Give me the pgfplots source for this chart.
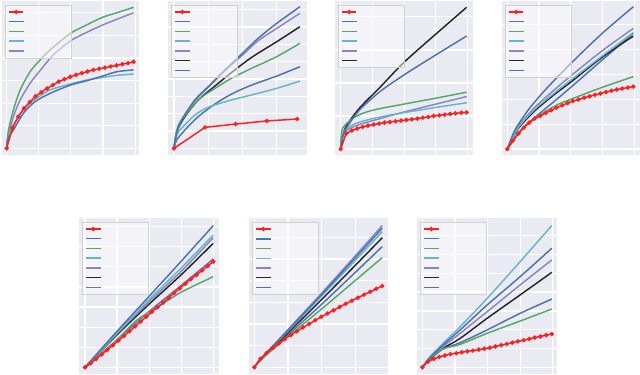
\documentclass[border=0pt]{standalone}
\usepackage{pgfplots}
\pgfplotsset{compat=1.18}
\definecolor{bgc}{HTML}{EAEAF2}
\definecolor{cblue}{HTML}{4C72B0}
\definecolor{cgreen}{HTML}{55A868}
\definecolor{ccyan}{HTML}{64B5CD}
\definecolor{cpurple}{HTML}{8A86C2}
\definecolor{cblack}{HTML}{262626}
\definecolor{cred}{HTML}{FF1F1F}

\pgfplotsset{
  panel/.style={
    scale only axis,
    axis background/.style={fill=bgc},
    axis line style={draw=none},
    xmajorgrids, ymajorgrids,
    major grid style={draw=white, line width=0.9pt},
    major tick length=0pt,
    xticklabel=\empty, yticklabel=\empty,
    reverse legend,
    legend cell align=left,
    legend style={at={(0.02,0.975)}, anchor=north west,
      fill=white, fill opacity=0.5, text opacity=1, draw opacity=1,
      draw=black!18, line width=0.4pt,
      inner xsep=2.5pt, inner ysep=1.5pt, row sep=0pt,
      font=\tiny, nodes={inner sep=0pt, minimum height=7.3pt}},
    legend image code/.code={%
      \draw[mark repeat=2,mark phase=2,##1] plot coordinates {(0pt,0pt) (5.4pt,0pt) (10.8pt,0pt)};},
  },
  ln/.style={line width=1.1pt, smooth, color=#1},
  rd/.style={line width=1.1pt, color=cred, mark=*, mark size=1.05pt},
}
\newcommand{\emptyleg}{\addlegendentry{\hspace*{33pt}}}

\begin{document}
\begin{tikzpicture}[x=0.75pt,y=0.75pt]
\useasboundingbox (0,0) rectangle (640,375);

% ---- panel 1
\begin{axis}[panel, at={(1.5pt,165pt)}, anchor=south west, width=102.75pt, height=115.5pt,
  xmin=-0.145, xmax=4.12, ymin=-0.295, ymax=6.52, xtick={0,...,4}, ytick={0,...,6}]
\addplot[ln=cpurple] coordinates {(0,0) (0.05,0.52) (0.21,1.40) (0.42,2.14) (0.73,2.88) (1.04,3.44) (1.45,4.13) (1.99,4.76) (2.49,5.13) (2.99,5.46) (3.43,5.71) (3.95,6.00)};\emptyleg
\addplot[ln=ccyan] coordinates {(0,0) (0.05,0.55) (0.21,1.03) (0.52,1.70) (0.88,2.17) (1.35,2.58) (1.99,2.85) (2.49,3.02) (2.99,3.14) (3.43,3.23) (3.95,3.29)};\emptyleg
\addplot[ln=cgreen] coordinates {(0,0) (0.05,0.75) (0.21,1.70) (0.42,2.58) (0.73,3.39) (1.04,3.91) (1.35,4.35) (1.99,5.09) (2.49,5.46) (2.99,5.80) (3.43,6.00) (3.95,6.24)};\emptyleg
\addplot[ln=cblue] coordinates {(0,0) (0.05,0.45) (0.21,0.81) (0.52,1.55) (0.88,2.06) (1.35,2.43) (1.99,2.80) (2.49,2.99) (2.99,3.20) (3.43,3.39) (3.95,3.47)};\emptyleg
\addplot[rd] coordinates {(0,0) (0.18,0.90) (0.36,1.40) (0.54,1.77) (0.72,2.05) (0.90,2.30) (1.08,2.48) (1.26,2.65) (1.44,2.80) (1.62,2.95) (1.80,3.06) (1.98,3.16) (2.16,3.25) (2.34,3.33) (2.52,3.40) (2.70,3.47) (2.88,3.52) (3.06,3.57) (3.24,3.62) (3.42,3.67) (3.60,3.72) (3.78,3.77) (3.95,3.83)};\emptyleg
\end{axis}

% ---- panel 2
\begin{axis}[panel, at={(126pt,165pt)}, anchor=south west, width=104.25pt, height=115.5pt,
  xmin=-0.175, xmax=3.885, ymin=-0.385, ymax=8.5, xtick={0,...,3}, ytick={0,...,8}]
\addplot[ln=cblue] coordinates {(0,0) (0.08,0.48) (0.32,1.06) (0.71,1.83) (1.2,2.56) (1.68,3.13) (2.27,3.65) (3.0,4.17) (3.68,4.71)};\emptyleg
\addplot[ln=cblack] coordinates {(0,0) (0.08,0.96) (0.32,1.83) (0.71,2.79) (1.2,3.6) (1.68,4.37) (2.27,5.25) (3.0,6.15) (3.68,7.02)};\emptyleg
\addplot[ln=cpurple] coordinates {(0,0) (0.08,0.87) (0.22,1.60) (0.61,2.75) (1.0,3.52) (1.49,4.48) (2.0,5.38) (2.46,6.21) (3.0,6.92) (3.68,7.79)};\emptyleg
\addplot[ln=ccyan] coordinates {(0,0) (0.08,0.77) (0.22,1.15) (0.61,1.92) (1.0,2.37) (1.68,2.79) (2.27,3.08) (3.0,3.46) (3.68,3.88)};\emptyleg
\addplot[ln=cgreen] coordinates {(0,0) (0.08,1.06) (0.22,1.63) (0.71,2.79) (1.2,3.46) (1.68,4.04) (2.27,4.62) (3.0,5.29) (3.68,6.06)};\emptyleg
\addplot[ln=cblue] coordinates {(0,0) (0.08,0.87) (0.22,1.63) (0.61,2.79) (1.0,3.56) (1.49,4.52) (2.0,5.48) (2.46,6.35) (3.0,7.21) (3.68,8.17)};\emptyleg
\addplot[rd] coordinates {(0,0) (0.91,1.21) (1.80,1.40) (2.71,1.58) (3.60,1.69)};\emptyleg
\end{axis}

% ---- panel 3
\begin{axis}[panel, at={(251.25pt,165pt)}, anchor=south west, width=103.5pt, height=115.5pt,
  xmin=-0.18, xmax=4.17, ymin=-0.18, ymax=4.48, xtick={0,...,4}, ytick={0,...,4}]
\addplot[ln=cblack] coordinates {(0,0) (0.06,0.37) (0.14,0.63) (0.29,0.86) (0.61,1.26) (1.24,1.87) (1.99,2.62) (3.0,3.48) (3.97,4.29)};\emptyleg
\addplot[ln=cpurple] coordinates {(0,0) (0.06,0.42) (0.24,0.60) (0.61,0.75) (1.24,0.92) (1.99,1.12) (3.0,1.36) (3.97,1.59)};\emptyleg
\addplot[ln=ccyan] coordinates {(0,0) (0.06,0.45) (0.24,0.66) (0.61,0.82) (1.24,0.97) (1.99,1.10) (3.0,1.26) (3.97,1.40)};\emptyleg
\addplot[ln=cgreen] coordinates {(0,0) (0.03,0.53) (0.14,0.73) (0.5,1.0) (1.03,1.18) (1.99,1.36) (3.0,1.54) (3.97,1.72)};\emptyleg
\addplot[ln=cblue] coordinates {(0,0) (0.06,0.37) (0.14,0.58) (0.29,0.80) (0.61,1.20) (1.24,1.74) (1.99,2.24) (3.0,2.85) (3.97,3.42)};\emptyleg
\addplot[rd] coordinates {(0,0) (0.17,0.47) (0.35,0.56) (0.52,0.62) (0.69,0.67) (0.86,0.71) (1.04,0.74) (1.21,0.77) (1.38,0.80) (1.55,0.82) (1.73,0.84) (1.90,0.86) (2.07,0.88) (2.24,0.90) (2.42,0.92) (2.59,0.95) (2.76,0.97) (2.93,1.00) (3.11,1.02) (3.28,1.04) (3.45,1.06) (3.62,1.08) (3.80,1.10) (3.97,1.11)};\emptyleg
\end{axis}

% ---- panel 4
\begin{axis}[panel, at={(376.5pt,165pt)}, anchor=south west, width=103.5pt, height=115.5pt,
  xmin=-0.168, xmax=4.18, ymin=-0.24, ymax=5.95, xtick={0,...,4}, ytick={0,...,5}]
\addplot[ln=cblue] coordinates {(0,0) (0.45,0.79) (0.87,1.27) (1.50,1.94) (2.0,2.48) (2.99,3.58) (3.97,4.65)};\emptyleg
\addplot[ln=cblack] coordinates {(0,0) (0.35,0.83) (0.87,1.54) (1.50,2.21) (2.0,2.69) (2.99,3.69) (3.97,4.54)};\emptyleg
\addplot[ln=cpurple] coordinates {(0,0) (0.35,0.90) (0.87,1.68) (1.50,2.40) (2.0,2.94) (2.99,3.95) (3.97,4.85)};\emptyleg
\addplot[ln=ccyan] coordinates {(0,0) (0.35,0.87) (0.87,1.60) (1.50,2.27) (2.0,2.77) (2.99,3.74) (3.97,4.68)};\emptyleg
\addplot[ln=cgreen] coordinates {(0,0) (0.45,0.79) (0.87,1.23) (1.50,1.73) (2.0,2.0) (2.99,2.48) (3.97,2.91)};\emptyleg
\addplot[ln=cblue] coordinates {(0,0) (0.24,0.76) (0.66,1.57) (1.19,2.37) (2.0,3.44) (2.99,4.65) (3.97,5.72)};\emptyleg
\addplot[rd] coordinates {(0,0) (0.17,0.33) (0.35,0.62) (0.52,0.86) (0.69,1.06) (0.86,1.22) (1.04,1.33) (1.21,1.45) (1.38,1.56) (1.55,1.66) (1.73,1.76) (1.90,1.85) (2.07,1.93) (2.24,1.99) (2.42,2.06) (2.59,2.12) (2.76,2.18) (2.93,2.23) (3.11,2.29) (3.28,2.34) (3.45,2.39) (3.62,2.43) (3.80,2.47) (3.97,2.51)};\emptyleg
\end{axis}

% ---- panel 5
\begin{axis}[panel, at={(59.25pt,0.75pt)}, anchor=south west, width=105pt, height=117pt,
  xmin=-0.187, xmax=4.18, ymin=-0.33, ymax=7.43, xtick={0,...,4}, ytick={0,...,7}]
\addplot[ln=cblue!70!cpurple] coordinates {(0,0) (0.94,1.28) (1.97,2.74) (2.99,4.06) (4.0,5.39)};\emptyleg
\addplot[ln=cblack] coordinates {(0,0) (0.94,1.53) (1.97,3.10) (2.99,4.59) (4.0,6.17)};\emptyleg
\addplot[ln=cpurple] coordinates {(0,0) (0.94,1.58) (1.97,3.22) (2.99,4.76) (4.0,6.45)};\emptyleg
\addplot[ln=ccyan] coordinates {(0,0) (0.94,1.61) (1.97,3.32) (2.99,4.93) (4.0,6.58)};\emptyleg
\addplot[ln=cgreen] coordinates {(0,0) (0.94,1.28) (1.61,2.34) (2.29,3.02) (2.99,3.73) (4.0,4.51)};\emptyleg
\addplot[ln=cblue] coordinates {(0,0) (0.94,1.69) (1.97,3.48) (2.99,5.26) (4.0,7.05)};\emptyleg
\addplot[rd] coordinates {(0,0) (0.174,0.20) (0.348,0.42) (0.522,0.64) (0.696,0.87) (0.870,1.10) (1.043,1.33) (1.217,1.56) (1.391,1.80) (1.565,2.04) (1.739,2.28) (1.913,2.52) (2.087,2.76) (2.261,2.99) (2.435,3.22) (2.609,3.46) (2.783,3.70) (2.957,3.93) (3.130,4.16) (3.304,4.39) (3.478,4.60) (3.652,4.82) (3.826,5.04) (4.0,5.26)};\emptyleg
\end{axis}

% ---- panel 6
\begin{axis}[panel, at={(186.75pt,0.75pt)}, anchor=south west, width=104.25pt, height=117pt,
  xmin=-0.158, xmax=3.96, ymin=-0.31, ymax=6.89, xtick={0,...,3}, ytick={0,...,6}]
\addplot[ln=cblue] coordinates {(0,0) (0.2,0.36) (0.95,1.43) (1.9,2.77) (2.85,4.17) (3.79,5.57)};\emptyleg
\addplot[ln=cblack] coordinates {(0,0) (0.2,0.37) (0.95,1.52) (1.9,2.98) (2.85,4.48) (3.79,5.98)};\emptyleg
\addplot[ln=cpurple] coordinates {(0,0) (0.2,0.4) (0.95,1.66) (1.9,3.26) (2.85,4.9) (3.79,6.54)};\emptyleg
\addplot[ln=ccyan] coordinates {(0,0) (0.2,0.39) (0.95,1.6) (1.9,3.14) (2.85,4.7) (3.79,6.26)};\emptyleg
\addplot[ln=cgreen] coordinates {(0,0) (0.2,0.36) (0.95,1.35) (1.9,2.57) (2.85,3.82) (3.79,5.06)};\emptyleg
\addplot[ln=cblue] coordinates {(0,0) (0.2,0.4) (0.95,1.63) (1.9,3.2) (2.85,4.81) (3.79,6.42)};\emptyleg
\addplot[rd] coordinates {(0,0) (0.180,0.39) (0.361,0.66) (0.541,0.89) (0.722,1.10) (0.902,1.30) (1.083,1.49) (1.263,1.66) (1.444,1.84) (1.624,2.00) (1.805,2.17) (1.985,2.33) (2.166,2.48) (2.346,2.63) (2.527,2.78) (2.707,2.93) (2.888,3.07) (3.068,3.21) (3.249,3.35) (3.429,3.48) (3.610,3.62) (3.790,3.75)};\emptyleg
\end{axis}

% ---- panel 7
\begin{axis}[panel, at={(312.75pt,0.75pt)}, anchor=south west, width=105pt, height=117pt,
  xmin=-0.164, xmax=4.13, ymin=-0.355, ymax=7.94, xtick={0,...,4}, ytick={0,...,7}]
\addplot[ln=cblue] coordinates {(0,0) (0.235,0.48) (0.64,0.98) (1.16,1.31) (1.99,1.99) (3.0,2.87) (3.97,3.63)};\emptyleg
\addplot[ln=cblack] coordinates {(0,0) (0.235,0.44) (0.64,1.01) (1.16,1.54) (1.99,2.61) (3.0,3.85) (3.97,5.05)};\emptyleg
\addplot[ln=cpurple] coordinates {(0,0) (0.235,0.48) (0.64,1.10) (1.16,1.81) (1.99,2.96) (3.0,4.38) (3.97,5.71)};\emptyleg
\addplot[ln=ccyan] coordinates {(0,0) (0.235,0.57) (0.64,1.28) (1.16,2.16) (1.99,3.67) (3.0,5.62) (3.97,7.54)};\emptyleg
\addplot[ln=cgreen] coordinates {(0,0) (0.235,0.48) (0.64,0.98) (1.16,1.22) (1.99,1.81) (3.0,2.46) (3.97,3.10)};\emptyleg
\addplot[ln=cblue] coordinates {(0,0) (0.235,0.51) (0.64,1.19) (1.16,1.99) (1.99,3.32) (3.0,4.82) (3.97,6.33)};\emptyleg
\addplot[rd] coordinates {(0,0) (0.17,0.30) (0.35,0.45) (0.52,0.55) (0.69,0.63) (0.86,0.70) (1.04,0.75) (1.21,0.80) (1.38,0.85) (1.55,0.89) (1.73,0.94) (1.90,0.99) (2.07,1.04) (2.24,1.11) (2.42,1.18) (2.59,1.24) (2.76,1.31) (2.93,1.38) (3.11,1.44) (3.28,1.51) (3.45,1.58) (3.62,1.64) (3.80,1.71) (3.97,1.77)};\emptyleg
\end{axis}
\end{tikzpicture}
\end{document}
